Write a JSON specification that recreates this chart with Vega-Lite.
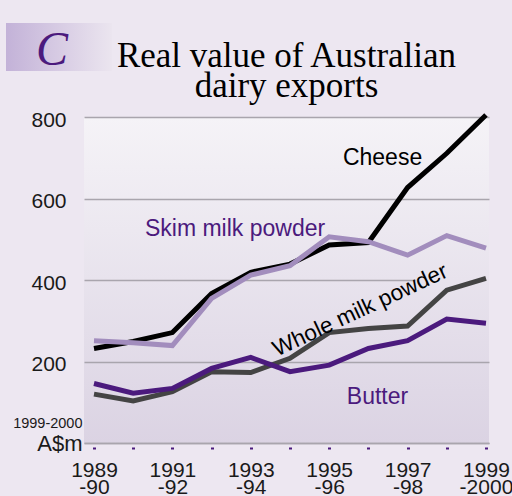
{
  "$schema": "https://vega.github.io/schema/vega-lite/v6.json",
  "width": 405,
  "height": 326,
  "autosize": {"type": "none"},
  "padding": {"left": 84, "top": 117, "right": 23, "bottom": 53},
  "background": "#ede7f1",
  "config": {
    "view": {
      "stroke": null,
      "fill": {"gradient": "linear", "x1": 0, "y1": 0, "x2": 0, "y2": 1,
        "stops": [{"offset": 0, "color": "#f5f3f7"}, {"offset": 1, "color": "#dbd3e3"}]}
    },
    "font": "Liberation Sans"
  },
  "title": {
    "text": ["Real value of Australian", "dairy exports"],
    "font": "Liberation Serif",
    "fontSize": 35,
    "fontWeight": "normal",
    "color": "#000000",
    "lineHeight": 30,
    "anchor": "middle",
    "offset": 10,
    "dy": 91
  },
  "datasets": {
    "exports": [
      {"year": 1989, "series": "Cheese", "value": 232},
      {"year": 1990, "series": "Cheese", "value": 249},
      {"year": 1991, "series": "Cheese", "value": 271},
      {"year": 1992, "series": "Cheese", "value": 367},
      {"year": 1993, "series": "Cheese", "value": 419},
      {"year": 1994, "series": "Cheese", "value": 439},
      {"year": 1995, "series": "Cheese", "value": 486},
      {"year": 1996, "series": "Cheese", "value": 492},
      {"year": 1997, "series": "Cheese", "value": 627},
      {"year": 1998, "series": "Cheese", "value": 711},
      {"year": 1999, "series": "Cheese", "value": 805},
      {"year": 1989, "series": "Skim milk powder", "value": 251},
      {"year": 1990, "series": "Skim milk powder", "value": 246},
      {"year": 1991, "series": "Skim milk powder", "value": 239},
      {"year": 1992, "series": "Skim milk powder", "value": 355},
      {"year": 1993, "series": "Skim milk powder", "value": 412},
      {"year": 1994, "series": "Skim milk powder", "value": 435},
      {"year": 1995, "series": "Skim milk powder", "value": 506},
      {"year": 1996, "series": "Skim milk powder", "value": 494},
      {"year": 1997, "series": "Skim milk powder", "value": 461},
      {"year": 1998, "series": "Skim milk powder", "value": 509},
      {"year": 1999, "series": "Skim milk powder", "value": 478},
      {"year": 1989, "series": "Whole milk powder", "value": 120},
      {"year": 1990, "series": "Whole milk powder", "value": 103},
      {"year": 1991, "series": "Whole milk powder", "value": 126},
      {"year": 1992, "series": "Whole milk powder", "value": 175},
      {"year": 1993, "series": "Whole milk powder", "value": 173},
      {"year": 1994, "series": "Whole milk powder", "value": 208},
      {"year": 1995, "series": "Whole milk powder", "value": 271},
      {"year": 1996, "series": "Whole milk powder", "value": 281},
      {"year": 1997, "series": "Whole milk powder", "value": 287},
      {"year": 1998, "series": "Whole milk powder", "value": 375},
      {"year": 1999, "series": "Whole milk powder", "value": 404},
      {"year": 1989, "series": "Butter", "value": 146},
      {"year": 1990, "series": "Butter", "value": 122},
      {"year": 1991, "series": "Butter", "value": 134},
      {"year": 1992, "series": "Butter", "value": 183},
      {"year": 1993, "series": "Butter", "value": 210},
      {"year": 1994, "series": "Butter", "value": 175},
      {"year": 1995, "series": "Butter", "value": 191},
      {"year": 1996, "series": "Butter", "value": 232},
      {"year": 1997, "series": "Butter", "value": 251},
      {"year": 1998, "series": "Butter", "value": 304},
      {"year": 1999, "series": "Butter", "value": 294}
    ],
    "blackLabels": [
      {"label": "Cheese", "year": 1995.35, "value": 682}
    ],
    "purpleLabels": [
      {"label": "Skim milk powder", "year": 1990.3, "value": 508},
      {"label": "Butter", "year": 1995.45, "value": 96}
    ],
    "slantLabels": [
      {"label": "Whole milk powder", "year": 1995.79, "value": 326}
    ],
    "badge": [
      {"letter": "C"}
    ]
  },
  "layer": [
    {
      "data": {"name": "badge"},
      "mark": {"type": "rect", "color": {"gradient": "linear", "x1": 0, "y1": 0, "x2": 1, "y2": 0,
        "stops": [{"offset": 0, "color": "#c3b2d8"}, {"offset": 1, "color": "#ebe5ef"}]}},
      "encoding": {
        "x": {"datum": 1986.755, "type": "quantitative", "scale": {"domain": [1988.745, 1999.077], "nice": false, "zero": false}},
        "x2": {"datum": 1989.46},
        "y": {"datum": 1030.7, "type": "quantitative", "scale": {"domain": [0, 800], "nice": false}},
        "y2": {"datum": 912.9}
      }
    },
    {
      "data": {"name": "badge"},
      "mark": {"type": "text", "font": "Liberation Serif", "fontStyle": "italic", "fontSize": 48, "color": "#4b1a7d", "align": "center", "baseline": "alphabetic"},
      "encoding": {
        "x": {"datum": 1987.93, "type": "quantitative", "scale": {"domain": [1988.745, 1999.077], "nice": false, "zero": false}},
        "y": {"datum": 927.6, "type": "quantitative", "scale": {"domain": [0, 800], "nice": false}},
        "text": {"field": "letter"}
      }
    },
    {
      "data": {"name": "exports"},
      "mark": {"type": "line", "strokeWidth": 5, "strokeJoin": "miter"},
      "encoding": {
        "x": {
          "field": "year", "type": "quantitative",
          "scale": {"domain": [1988.745, 1999.077], "nice": false, "zero": false},
          "axis": {
            "values": [1989, 1990, 1991, 1992, 1993, 1994, 1995, 1996, 1997, 1998, 1999],
            "format": "d",
            "labelExpr": "datum.value % 2 == 1 ? [format(datum.value, 'd'), datum.value == 1999 ? '-2000' : '-' + format((datum.value + 1) % 100, '02d')] : ''",
            "title": null,
            "grid": false,
            "tickSize": 8,
            "tickDash": [0, 4, 2, 20],
            "tickWidth": 3,
            "tickColor": "#4b1a7d",
            "labelPadding": 8,
            "labelFont": "Liberation Sans",
            "labelFontSize": 21,
            "labelLineHeight": 17,
            "labelColor": "#1a1a1a",
            "labelBaseline": "top",
            "labelFlush": false,
            "labelOverlap": false,
            "domainColor": "#a9a5ad",
            "domainWidth": 1.5
          }
        },
        "y": {
          "field": "value", "type": "quantitative",
          "scale": {"domain": [0, 800], "nice": false},
          "axis": {
            "values": [0, 200, 400, 600, 800],
            "labelExpr": "datum.value == 0 ? 'A$m' : datum.label",
            "labelFont": "Liberation Sans",
            "labelFontSize": {"condition": {"test": "datum.value == 0", "value": 22}, "value": 21},
            "labelPadding": {"condition": {"test": "datum.value == 0", "value": 2}, "value": 18},
            "labelOffset": {"condition": {"test": "datum.value == 0", "value": 0.5}, "value": 3},
            "labelColor": "#1a1a1a",
            "title": "1999-2000",
            "titleAngle": 0,
            "titleAlign": "right",
            "titleBaseline": "alphabetic",
            "titleX": -2,
            "titleY": 310,
            "titleFont": "Liberation Sans",
            "titleFontSize": 14.5,
            "titleFontWeight": "normal",
            "titleColor": "#1a1a1a",
            "domain": false,
            "ticks": false,
            "tickSize": 0,
            "grid": true,
            "gridColor": "#a9a5ad",
            "gridWidth": 1.5,
            "gridDash": {"condition": {"test": "datum.value == 400", "value": [331, 200]}, "value": []}
          }
        },
        "color": {
          "field": "series", "type": "nominal",
          "scale": {"domain": ["Skim milk powder", "Whole milk powder", "Butter", "Cheese"], "range": ["#a28dbd", "#444444", "#4b1a7d", "#000000"]},
          "legend": null
        },
        "order": {"field": "year"}
      }
    },
    {
      "data": {"name": "blackLabels"},
      "mark": {"type": "text", "font": "Liberation Sans", "fontSize": 23, "color": "#000000", "align": "left", "baseline": "alphabetic"},
      "encoding": {
        "x": {"field": "year", "type": "quantitative", "scale": {"domain": [1988.745, 1999.077], "nice": false, "zero": false}},
        "y": {"field": "value", "type": "quantitative", "scale": {"domain": [0, 800], "nice": false}},
        "text": {"field": "label"}
      }
    },
    {
      "data": {"name": "purpleLabels"},
      "mark": {"type": "text", "font": "Liberation Sans", "fontSize": 23, "color": "#4b1a7d", "align": "left", "baseline": "alphabetic"},
      "encoding": {
        "x": {"field": "year", "type": "quantitative", "scale": {"domain": [1988.745, 1999.077], "nice": false, "zero": false}},
        "y": {"field": "value", "type": "quantitative", "scale": {"domain": [0, 800], "nice": false}},
        "text": {"field": "label"}
      }
    },
    {
      "data": {"name": "slantLabels"},
      "mark": {"type": "text", "font": "Liberation Sans", "fontSize": 22.5, "color": "#000000", "align": "center", "baseline": "middle", "angle": -25},
      "encoding": {
        "x": {"field": "year", "type": "quantitative", "scale": {"domain": [1988.745, 1999.077], "nice": false, "zero": false}},
        "y": {"field": "value", "type": "quantitative", "scale": {"domain": [0, 800], "nice": false}},
        "text": {"field": "label"}
      }
    }
  ]
}
